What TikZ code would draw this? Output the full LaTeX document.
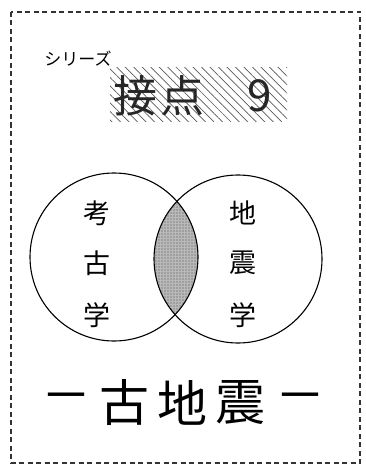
\documentclass[tikz,border=0pt]{standalone}
\usepackage{fontspec}
\newfontfamily\jp{Noto Sans CJK JP}
\usetikzlibrary{patterns.meta}
\tikzset{
  frame/.style={line width=1.4pt, dash pattern=on 5pt off 3.5pt, black!80},
  ring/.style={circle, draw, line width=1.1pt, minimum size=168pt, inner sep=0pt},
  kanji/.style={font=\jp\fontsize{27}{27}\selectfont, inner sep=0pt},
  big/.style={font=\jp\fontsize{44}{44}\selectfont, inner sep=0pt, text=black!85},
  bottomtxt/.style={font=\jp\fontsize{50}{50}\selectfont, inner sep=0pt},
}
\begin{document}
\begin{tikzpicture}[x=1pt,y=-1pt]
\useasboundingbox (0,0) rectangle (366,468);
\draw[frame] (11,12) rectangle (360,463);
% title
\node[font=\jp\fontsize{17}{17}\selectfont, inner sep=0pt] (series) at (78,59) {シリーズ};
\fill[pattern={Lines[angle=-45,distance=6pt,line width=0.7pt]}, pattern color=black!65] (110,68) rectangle (287,122);
\node[big] (t1) at (135,96) {接};
\node[big] (t2) at (182,96) {点};
\node[big] (t3) at (260,96) {9};
% lens
\begin{scope}
  \clip (114,257) circle (84);
  \fill[gray!55] (238,259) circle (84);
  \fill[pattern={Dots[distance=3pt,radius=0.6pt]}, pattern color=black!70] (238,259) circle (84);
\end{scope}
\node[ring] (L) at (114,257) {};
\node[ring] (R) at (238,259) {};
% circle texts
\node[kanji] (l1) at (97,213) {考};
\node[kanji] (l2) at (97,263) {古};
\node[kanji] (l3) at (97,315) {学};
\node[kanji] (r1) at (243,213) {地};
\node[kanji] (r2) at (243,263) {震};
\node[kanji] (r3) at (243,315) {学};
% bottom
\node[bottomtxt] (d1) at (66,403) {－};
\node[bottomtxt] (b1) at (124,403) {古};
\node[bottomtxt] (b2) at (182,403) {地};
\node[bottomtxt] (b3) at (240,403) {震};
\node[bottomtxt] (d2) at (300,403) {－};
\end{tikzpicture}
\end{document}
